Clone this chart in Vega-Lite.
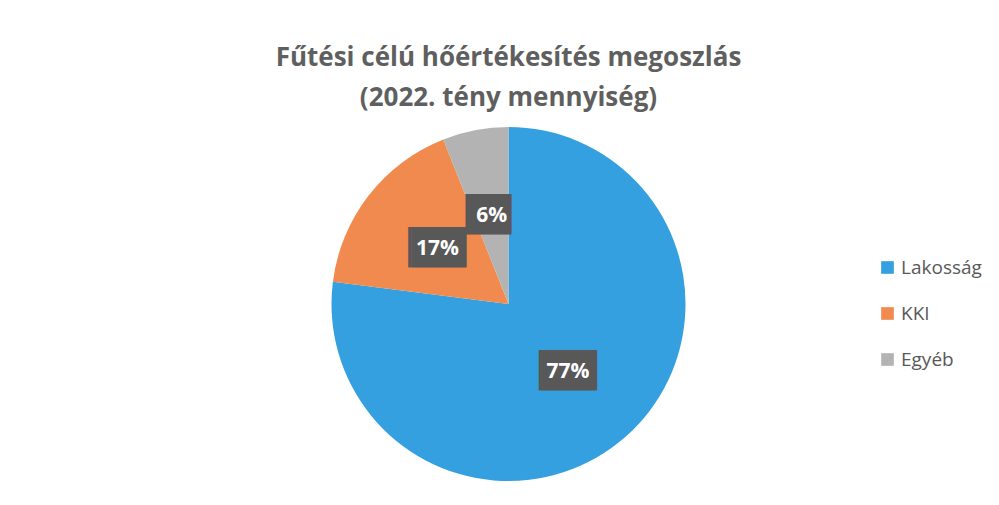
{
  "$schema": "https://vega.github.io/schema/vega-lite/v6.json",
  "width": 981,
  "height": 348,
  "autosize": "none",
  "padding": {"left": 18, "top": 130, "right": 0, "bottom": 27},
  "background": "white",
  "title": {
    "text": ["Fűtési célú hőértékesítés megoszlás", "(2022. tény mennyiség)"],
    "font": "Open Sans",
    "fontSize": 26,
    "fontWeight": "bold",
    "color": "#5f5f5f",
    "lineHeight": 40,
    "offset": 16,
    "anchor": "middle"
  },
  "data": {
    "values": [
      {"kategoria": "Lakosság", "ertek": 77, "sorrend": 1, "cimke": "77%"},
      {"kategoria": "KKI", "ertek": 17, "sorrend": 2, "cimke": "17%"},
      {"kategoria": "Egyéb", "ertek": 6, "sorrend": 3, "cimke": "6%"}
    ]
  },
  "encoding": {
    "theta": {"field": "ertek", "type": "quantitative", "stack": true},
    "order": {"field": "sorrend", "type": "quantitative"}
  },
  "layer": [
    {
      "mark": {"type": "arc", "outerRadius": 177},
      "encoding": {
        "color": {
          "field": "kategoria",
          "type": "nominal",
          "sort": ["Lakosság", "KKI", "Egyéb"],
          "scale": {"domain": ["Lakosság", "KKI", "Egyéb"], "range": ["#35a0e0", "#f08a4e", "#b3b3b3"]},
          "legend": {
            "title": null,
            "orient": "none",
            "legendX": 860,
            "legendY": 128,
            "padding": 0,
            "symbolType": "square",
            "symbolSize": 160,
            "symbolStrokeWidth": 0,
            "symbolOpacity": 1,
            "labelFont": "Open Sans",
            "labelFontSize": 19,
            "labelColor": "#595959",
            "labelOffset": 4,
            "rowPadding": 26
          }
        }
      }
    },
    {
      "mark": {"type": "text", "radius": 90, "font": "DejaVu Sans", "fontSize": 34, "color": "#585858"},
      "encoding": {
        "text": {"condition": {"test": "datum.sorrend == 3", "value": "█▊"}, "value": "▕██▏"}
      }
    },
    {
      "mark": {"type": "text", "radius": 90, "font": "Open Sans", "fontWeight": "bold", "fontSize": 21, "color": "white"},
      "encoding": {
        "text": {"field": "cimke", "type": "nominal"}
      }
    }
  ]
}
